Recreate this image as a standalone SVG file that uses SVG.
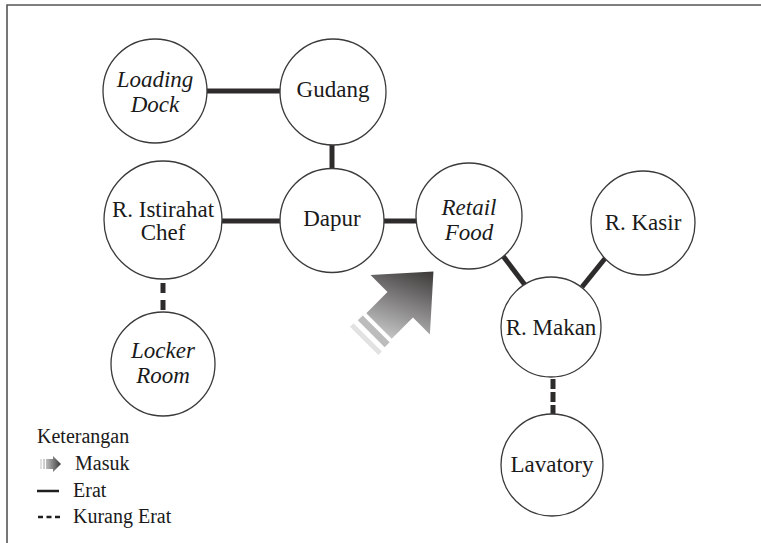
<svg xmlns="http://www.w3.org/2000/svg" width="761" height="543" viewBox="0 0 761 543" font-family="'Liberation Serif', 'DejaVu Serif', serif">
<style>
.node circle{fill:#fff;stroke:#3a3a3a;stroke-width:1.3}
.lbl{font-family:'Liberation Serif','DejaVu Serif',serif;font-size:23px;fill:#1a1a1a;text-anchor:middle}
.it{font-style:italic}
.con{stroke:#2e2b2b;stroke-width:5;fill:none}
.dash{stroke:#2e2b2b;stroke-width:5;fill:none}
.leg{font-family:'Liberation Serif','DejaVu Serif',serif;font-size:20px;fill:#1a1a1a}
</style>
<defs>
<linearGradient id="ag" gradientUnits="userSpaceOnUse" x1="0" y1="18" x2="77" y2="-18">
<stop offset="0" stop-color="#c4c4c4"/>
<stop offset="1" stop-color="#2e2a2a"/>
</linearGradient>
<linearGradient id="lg" x1="0" y1="0" x2="1" y2="0">
<stop offset="0" stop-color="#bdbdbd"/>
<stop offset="1" stop-color="#3a3a3a"/>
</linearGradient>
</defs>
<rect width="761" height="543" fill="#fff"/>
<path d="M7,543 V5 H761" fill="none" stroke="#555" stroke-width="1.6"/>
<g id="connectors">
<line class="con" x1="206" y1="91" x2="281" y2="91"/>
<line class="con" x1="332" y1="144" x2="332" y2="169"/>
<line class="con" x1="221" y1="221" x2="281" y2="221"/>
<line class="con" x1="383" y1="221" x2="418" y2="221"/>
<line class="con" x1="503" y1="256" x2="525" y2="285"/>
<line class="con" x1="607" y1="256" x2="582" y2="287"/>
<line class="dash" x1="163" y1="283" x2="163" y2="310" stroke-dasharray="10 7"/>
<line class="dash" x1="553" y1="379" x2="553" y2="414" stroke-dasharray="10 3"/>
</g>
<g id="entry-arrow" transform="translate(379,326) rotate(-45)">
<rect x="-21" y="-20" width="5" height="40" fill="#e2e2e2"/>
<rect x="-11" y="-19" width="7" height="38" fill="#bcbcbc"/>
<polygon points="0,-18 30,-18 30,-42 77,0 30,42 30,18 0,18" fill="url(#ag)"/>
</g>
<g id="loading-dock" class="node"><circle cx="155" cy="91" r="52"/><text class="lbl it" x="155" y="87">Loading</text><text class="lbl it" x="155" y="112">Dock</text></g>
<g id="gudang" class="node"><circle cx="333" cy="92" r="53"/><text class="lbl" x="333" y="97">Gudang</text></g>
<g id="r-istirahat-chef" class="node"><circle cx="163" cy="220" r="59"/><text class="lbl" x="163" y="217">R. Istirahat</text><text class="lbl" x="163" y="240">Chef</text></g>
<g id="dapur" class="node"><circle cx="332" cy="220.5" r="52"/><text class="lbl" x="332" y="226">Dapur</text></g>
<g id="retail-food" class="node"><circle cx="469" cy="216" r="53"/><text class="lbl it" x="469" y="215">Retail</text><text class="lbl it" x="469" y="240">Food</text></g>
<g id="r-kasir" class="node"><circle cx="643" cy="223" r="52"/><text class="lbl" x="643" y="230">R. Kasir</text></g>
<g id="r-makan" class="node"><circle cx="551" cy="327" r="50"/><text class="lbl" x="551" y="335">R. Makan</text></g>
<g id="locker-room" class="node"><circle cx="163" cy="364" r="52"/><text class="lbl it" x="163" y="358">Locker</text><text class="lbl it" x="163" y="383">Room</text></g>
<g id="lavatory" class="node"><circle cx="552" cy="465" r="51"/><text class="lbl" x="552" y="472">Lavatory</text></g>
<g id="legend">
<text class="leg" x="37" y="443">Keterangan</text>
<rect x="40" y="459" width="2" height="10" fill="#e0e0e0"/>
<rect x="43" y="459" width="2" height="10" fill="#cfcfcf"/>
<polygon points="46,459 53,459 53,456 61,464 53,472 53,469 46,469" fill="url(#lg)"/>
<text class="leg" x="75" y="470">Masuk</text>
<line x1="37" y1="491" x2="59" y2="491" stroke="#1f1f1f" stroke-width="2.5"/>
<text class="leg" x="73" y="497">Erat</text>
<line x1="38" y1="517" x2="60" y2="517" stroke="#1f1f1f" stroke-width="2.5" stroke-dasharray="5 3.5"/>
<text class="leg" x="73" y="523">Kurang Erat</text>
</g>
</svg>
